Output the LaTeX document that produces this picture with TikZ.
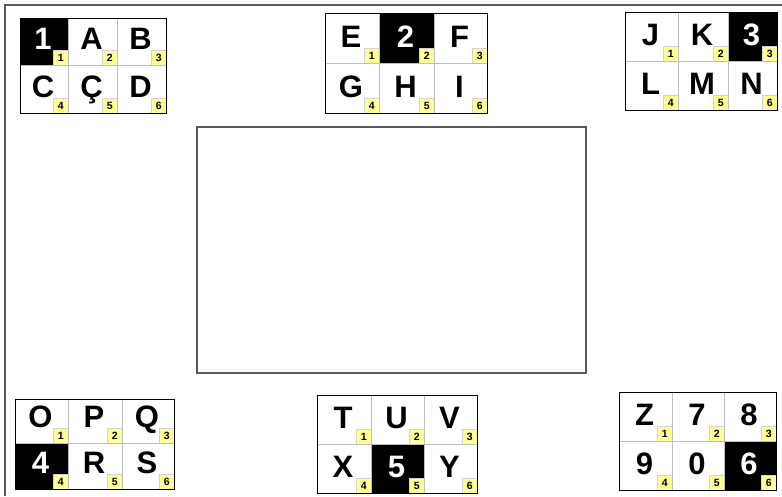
\documentclass[tikz,border=0pt]{standalone}
\usepackage{fontspec}
\setmainfont{Liberation Sans}
\usetikzlibrary{fit,calc}
\definecolor{numyellow}{RGB}{255,255,150}
\definecolor{framegray}{RGB}{90,90,90}
\tikzset{
  wcell/.style={inner sep=0pt, draw=gray!50, line width=0.8pt, fill=white},
  bcell/.style={inner sep=0pt, draw=gray!50, line width=0.8pt, fill=black},
  wtext/.style={font=\fontsize{31}{31}\selectfont\bfseries, text=black, inner sep=0pt, anchor=base},
  btext/.style={font=\fontsize{31}{31}\selectfont\bfseries, text=white, inner sep=0pt, anchor=base},
  numbox/.style={fill=numyellow, draw=gray!35, line width=0.4pt, minimum width=15pt,
    minimum height=15pt, inner sep=0pt, font=\fontsize{10.5}{10.5}\selectfont\bfseries, anchor=south east},
  gridframe/.style={draw=black, line width=1pt, inner sep=0pt},
  frameline/.style={draw=framegray, line width=1.8pt},
  boardbox/.style={draw=framegray, line width=1.5pt, inner sep=0pt},
}
\newcommand\mycell[8]{%
  \node[#8cell, fit={(#2,#3) (#4,#5)}] (#1) {};
  \node[#8text] (#1t) at ($(#1.south)+(-1,-16)$) {#6};
  \node[numbox] (#1n) at (#1.south east) {#7};
}
\begin{document}
\begin{tikzpicture}[x=1pt,y=-1pt]
\useasboundingbox (0,0) rectangle (782,496);
\fill[white] (0,0) rectangle (782,496);
% outer frame
\coordinate (ftl) at (5,5);
\coordinate (ftr) at (782,5);
\coordinate (fbl) at (5,496);
\draw[frameline] (ftr) -- (ftl) -- (fbl);
% central board
\node[boardbox, fit={(197,127) (586,373)}] (board) {};
% grid 1
\mycell{a1}{20}{18}{68}{65}{1}{1}{b}
\mycell{a2}{68}{18}{117}{65}{A}{2}{w}
\mycell{a3}{117}{18}{166}{65}{B}{3}{w}
\mycell{a4}{20}{65}{68}{113}{C}{4}{w}
\mycell{a5}{68}{65}{117}{113}{Ç}{5}{w}
\mycell{a6}{117}{65}{166}{113}{D}{6}{w}
\node[gridframe, fit={(20,18) (166,113)}] (ga) {};
% grid 2
\mycell{b1}{325}{13}{379}{63}{E}{1}{w}
\mycell{b2}{379}{13}{434}{63}{2}{2}{b}
\mycell{b3}{434}{13}{487}{63}{F}{3}{w}
\mycell{b4}{325}{63}{379}{113}{G}{4}{w}
\mycell{b5}{379}{63}{434}{113}{H}{5}{w}
\mycell{b6}{434}{63}{487}{113}{I}{6}{w}
\node[gridframe, fit={(325,13) (487,113)}] (gb) {};
% grid 3
\mycell{c1}{625}{12}{678}{61}{J}{1}{w}
\mycell{c2}{678}{12}{728}{61}{K}{2}{w}
\mycell{c3}{728}{12}{777}{61}{3}{3}{b}
\mycell{c4}{625}{61}{678}{110}{L}{4}{w}
\mycell{c5}{678}{61}{728}{110}{M}{5}{w}
\mycell{c6}{728}{61}{777}{110}{N}{6}{w}
\node[gridframe, fit={(625,12) (777,110)}] (gc) {};
% grid 4
\mycell{d1}{15}{399}{68}{443}{O}{1}{w}
\mycell{d2}{68}{399}{122}{443}{P}{2}{w}
\mycell{d3}{122}{399}{174}{443}{Q}{3}{w}
\mycell{d4}{15}{443}{68}{489}{4}{4}{b}
\mycell{d5}{68}{443}{122}{489}{R}{5}{w}
\mycell{d6}{122}{443}{174}{489}{S}{6}{w}
\node[gridframe, fit={(15,399) (174,489)}] (gd) {};
% grid 5
\mycell{e1}{317}{395}{371}{444}{T}{1}{w}
\mycell{e2}{371}{395}{424}{444}{U}{2}{w}
\mycell{e3}{424}{395}{477}{444}{V}{3}{w}
\mycell{e4}{317}{444}{371}{493}{X}{4}{w}
\mycell{e5}{371}{444}{424}{493}{5}{5}{b}
\mycell{e6}{424}{444}{477}{493}{Y}{6}{w}
\node[gridframe, fit={(317,395) (477,493)}] (ge) {};
% grid 6
\mycell{f1}{619}{392}{672}{441}{Z}{1}{w}
\mycell{f2}{672}{392}{724}{441}{7}{2}{w}
\mycell{f3}{724}{392}{776}{441}{8}{3}{w}
\mycell{f4}{619}{441}{672}{490}{9}{4}{w}
\mycell{f5}{672}{441}{724}{490}{0}{5}{w}
\mycell{f6}{724}{441}{776}{490}{6}{6}{b}
\node[gridframe, fit={(619,392) (776,490)}] (gf) {};
\end{tikzpicture}
\end{document}
